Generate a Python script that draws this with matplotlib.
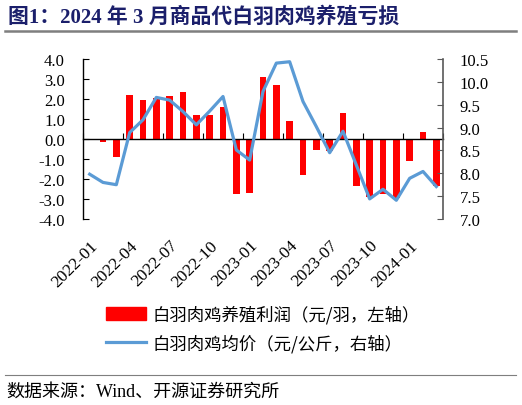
import matplotlib
matplotlib.use("Agg")
import matplotlib.pyplot as plt
from matplotlib.lines import Line2D
from matplotlib.patches import Patch

# monthly data, 2022-01 .. 2024-03
months = ["2022-01", "2022-02", "2022-03", "2022-04", "2022-05", "2022-06",
          "2022-07", "2022-08", "2022-09", "2022-10", "2022-11", "2022-12",
          "2023-01", "2023-02", "2023-03", "2023-04", "2023-05", "2023-06",
          "2023-07", "2023-08", "2023-09", "2023-10", "2023-11", "2023-12",
          "2024-01", "2024-02", "2024-03"]
profit = [-0.05, -0.17, -0.92, 2.22, 1.97, 2.07, 2.13, 2.35, 1.22, 1.18, 1.62, -2.75,
          -2.70, 3.08, 2.72, 0.90, -1.80, -0.53, -0.60, 1.28, -2.33, -2.90, -2.75, -2.97,
          -1.08, 0.33, -2.33]
price = [7.98, 7.80, 7.75, 8.89, 9.17, 9.66, 9.60, 9.35, 9.06, 9.36, 9.68, 8.51,
         8.29, 9.79, 10.41, 10.44, 9.57, 9.02, 8.45, 8.92, 8.18, 7.44, 7.65, 7.41,
         7.89, 8.04, 7.71]
label_every = 3

SERIF_CJK = ["Liberation Serif", "Noto Sans CJK SC"]
CJK = ["Noto Sans CJK SC", "DejaVu Sans"]
plt.rcParams["font.family"] = SERIF_CJK

x = list(range(len(months)))

fig = plt.figure(figsize=(5.22, 4.06), dpi=100)
ax = fig.add_axes([83 / 522, 1 - 220 / 406, 360 / 522, 160 / 406])
ax2 = ax.twinx()

ax.bar(x, profit, width=0.5, color="#FF0000", zorder=2)
ax2.plot(x, price, color="#5B9BD5", lw=2.3, zorder=3)

ax.set_xlim(-0.5, len(months) - 0.5)
ax.set_ylim(-4, 4)
ax.set_yticks([-4, -3, -2, -1, 0, 1, 2, 3, 4])
ax.set_yticklabels([f"{v:.1f}" for v in ax.get_yticks()])
ax2.set_ylim(7, 10.5)
ax2.set_yticks([7.0, 7.5, 8.0, 8.5, 9.0, 9.5, 10.0, 10.5])
ax2.set_yticklabels([f"{v:.1f}" for v in ax2.get_yticks()])

# zero line acts as category axis, ticks between categories
ax.spines["bottom"].set_position(("data", 0))
ax.spines["bottom"].set_color("black")
ax.spines["bottom"].set_linewidth(1.0)
ax.set_xticks([k - 0.5 for k in range(0, len(months) + 1, label_every)])
ax.tick_params(axis="x", direction="in", length=4, width=0.8, labelbottom=False)
ax.tick_params(axis="y", direction="in", length=4, width=0.8, labelsize=12, pad=13)
ax2.tick_params(axis="y", direction="in", length=4, width=0.8, labelsize=12, pad=12,
                color="#595959")

for a in (ax, ax2):
    a.spines["top"].set_visible(False)
ax.spines["right"].set_visible(False)
ax2.spines["left"].set_visible(False)
ax2.spines["bottom"].set_visible(False)
ax2.spines["right"].set_color("#595959")
ax2.spines["right"].set_linewidth(1.2)
ax.spines["left"].set_linewidth(1.0)

# date labels below the plot area
sec = ax.secondary_xaxis("bottom")
sec.set_xticks(x[::label_every])
sec.set_xticklabels(months[::label_every], rotation=45, ha="right",
                    rotation_mode="anchor", fontsize=12.5)
sec.tick_params(length=0, pad=13)
sec.spines["bottom"].set_visible(False)

# legend
handles = [Patch(color="#FF0000"), Line2D([], [], color="#5B9BD5", lw=2.3)]
labels = ["白羽肉鸡养殖利润（元/羽，左轴）", "白羽肉鸡均价（元/公斤，右轴）"]
fig.legend(handles, labels, loc="upper left", bbox_to_anchor=(90 / 522, 1 - 290 / 406),
           frameon=False, prop={"family": CJK, "size": 12.5}, handlelength=2.3,
           handleheight=0.75, labelspacing=0.6, handletextpad=0.4)

# title, rules and source
fig.text(8 / 522, 1 - 17 / 406, "图1：2024 年 3 月商品代白羽肉鸡养殖亏损", fontsize=15,
         fontweight="bold", color="#1B1F6B", va="center", ha="left")
fig.add_artist(Line2D([5 / 522, 516 / 522], [1 - 32 / 406] * 2, color="#7F7F7F", lw=1.8))
fig.add_artist(Line2D([5 / 522, 516 / 522], [1 - 376 / 406] * 2, color="#7F7F7F", lw=0.8))
fig.text(6 / 522, 1 - 392 / 406, "数据来源：Wind、开源证券研究所", fontsize=13,
         va="center", ha="left")

fig.savefig("out.png", dpi=100)
